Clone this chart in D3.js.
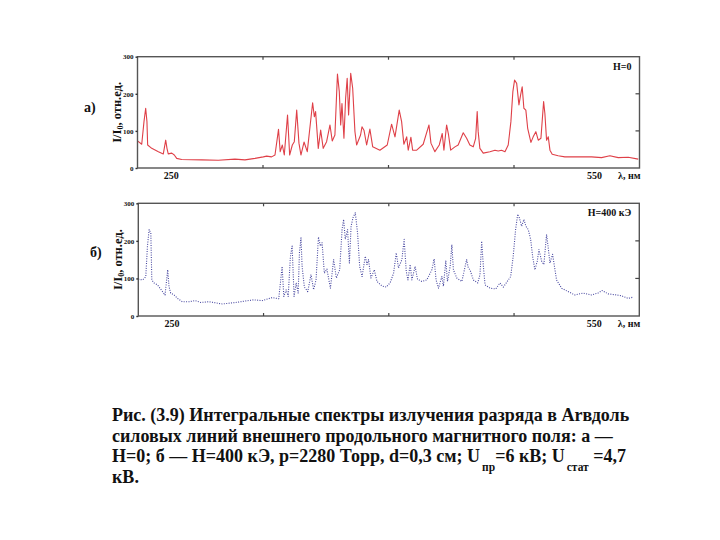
<!DOCTYPE html>
<html><head><meta charset="utf-8">
<script src="https://cdn.jsdelivr.net/npm/d3@7"></script>
<style>
html,body{margin:0;padding:0;background:#fff;}
svg{display:block;}
text{font-family:"Liberation Serif","Times New Roman",serif;font-weight:bold;fill:#111;}
</style></head>
<body>
<svg id="chart" width="720" height="540"></svg>
<script>
// ---- data ----
const lambdaA = [226.0,229.0,230.6,231.8,232.7,233.2,236.1,240.8,244.3,246.0,246.9,247.8,250.3,252.1,253.8,257.3,271.5,283.3,295.1,302.2,309.3,315.2,317.6,321.1,323.5,326.0,327.2,328.7,330.1,332.4,333.9,335.8,337.2,338.9,340.5,341.9,344.1,346.4,350.2,351.4,352.3,354.2,355.9,357.7,360.1,362.5,364.1,366.0,367.8,369.1,370.1,371.0,372.4,373.6,374.7,375.7,377.2,378.6,380.2,381.4,384.2,385.2,386.6,388.5,390.8,392.8,397.9,403.1,406.2,408.6,411.6,413.3,414.9,416.9,418.0,419.9,421.1,424.0,428.6,432.7,434.1,436.9,440.0,442.1,443.3,445.2,446.6,448.1,451.1,453.4,457.0,459.4,461.7,464.1,465.8,466.9,467.6,468.8,471.2,475.9,479.5,481.8,484.2,486.6,488.9,490.8,492.2,493.4,494.9,496.5,497.7,498.8,500.0,501.4,502.7,505.0,506.6,508.5,510.2,512.1,514.0,514.9,516.1,517.3,518.5,520.1,524.3,529.1,538.5,548.0,555.1,561.0,566.9,574.0,581.1];
const intensityA = [73,64,125,161,125,62,53,44,38,75,53,38,40,35,26,23,22,21,24,22,26,30,32,30,35,104,44,62,35,143,35,62,71,156,67,35,70,44,176,138,152,53,102,53,71,116,73,89,253,206,116,174,80,188,242,143,255,215,98,62,89,111,102,62,105,57,48,62,118,84,156,125,64,84,48,83,48,48,64,116,67,44,62,93,48,116,89,48,57,62,95,80,62,57,80,152,98,53,40,44,48,46,48,44,62,125,206,237,228,170,197,219,161,156,107,69,84,98,75,80,179,147,75,84,48,37,33,30,30,30,28,33,28,29,24];

const lambdaB = [226.0,229.0,231.3,232.5,233.7,234.9,235.6,237.2,239.6,243.2,245.0,246.9,247.8,249.0,251.4,253.8,257.3,262.0,266.3,270.3,276.2,285.7,295.1,302.2,308.1,314.1,321.1,325.8,328.2,329.4,331.1,332.5,334.1,335.3,336.7,338.2,339.6,340.5,341.6,342.4,344.0,346.4,348.7,350.6,352.3,354.0,355.4,356.6,358.2,360.0,362.5,364.8,366.7,369.1,370.8,371.9,373.1,374.7,376.0,377.2,378.6,380.2,381.8,383.3,385.0,387.3,388.5,389.6,391.3,393.7,395.6,399.1,402.2,405.0,407.4,409.3,410.9,413.3,414.9,416.4,417.6,419.2,420.4,422.7,424.4,427.5,431.0,434.6,436.2,437.6,439.3,441.7,442.8,444.5,445.7,447.6,448.8,449.9,452.3,455.9,459.3,460.5,461.7,464.1,467.2,468.8,470.0,471.2,472.4,475.9,480.0,483.0,485.4,488.2,490.6,492.4,494.1,495.6,496.7,498.4,500.0,501.4,503.1,504.8,506.2,507.8,509.5,510.7,512.6,514.2,516.1,517.3,518.5,520.4,521.5,523.2,526.8,531.4,536.2,542.1,548.0,552.7,555.5,559.8,565.8,569.3,574.0,577.5];
const intensityB = [98,96,104,186,230,221,96,88,83,65,56,123,79,61,56,47,38,38,41,36,38,32,36,40,43,41,49,46,132,52,70,52,159,186,52,88,61,168,208,132,77,65,110,70,96,210,186,195,114,125,74,150,101,123,230,257,204,230,141,239,262,275,221,132,105,159,137,150,101,123,92,80,77,89,114,168,128,150,204,119,96,137,96,132,98,92,96,123,152,96,74,105,79,146,92,132,190,123,101,92,150,128,123,96,88,110,199,132,83,74,72,88,77,92,105,159,230,271,262,239,257,239,230,204,159,123,146,177,146,137,217,181,141,164,137,96,74,65,56,61,56,61,68,59,56,54,47,50];

const yTicks = [0,100,200,300];
const innerTicksX = [315,404,493];
const innerTicksY = [100,200];
const xLabels = [250,550];
const xDomain = [226,582];
const yDomain = [0,300];
const panelLetters = ["а)","б)"];
const fieldLabels = ["H=0","H=400 кЭ"];
const xUnit = "λ, нм";

const svg = d3.select("#chart");

function panel(cfg){
  const x = d3.scaleLinear().domain(xDomain).range([cfg.left,cfg.right]);
  const y = d3.scaleLinear().domain(yDomain).range([cfg.bottom,cfg.top]);
  const g = svg.append("g");
  const line = d3.line().x((d,i)=>x(cfg.lx[i])).y((d,i)=>y(cfg.iy[i]));
  g.append("path").datum(cfg.iy).attr("d",line)
    .attr("fill","none").attr("stroke",cfg.color).attr("stroke-width",cfg.sw)
    .attr("stroke-dasharray",cfg.dash||null).attr("stroke-linejoin","round");
  g.append("rect").attr("x",cfg.left).attr("y",cfg.top)
    .attr("width",cfg.right-cfg.left).attr("height",cfg.bottom-cfg.top)
    .attr("fill","none").attr("stroke","#555").attr("stroke-width",1.4);
  const ax = g.append("g").attr("transform",`translate(${cfg.left},0)`)
    .call(d3.axisLeft(y).tickValues(yTicks).tickSize(2).tickPadding(2).tickFormat(d3.format("d")));
  ax.select(".domain").remove();
  ax.selectAll("line").attr("stroke","#333").attr("stroke-width",1.4);
  ax.selectAll("text").style("font-size","7px").style("font-weight","bold")
    .style("font-family","Liberation Serif, serif").attr("fill","#111");
  innerTicksX.forEach(v=>{
    g.append("line").attr("x1",x(v)).attr("x2",x(v)).attr("y1",cfg.top).attr("y2",cfg.top+3).attr("stroke","#444").attr("stroke-width",1.2);
    g.append("line").attr("x1",x(v)).attr("x2",x(v)).attr("y1",cfg.bottom).attr("y2",cfg.bottom-3).attr("stroke","#444").attr("stroke-width",1.2);
  });
  innerTicksY.forEach(v=>{
    g.append("line").attr("x1",cfg.right).attr("x2",cfg.right-4).attr("y1",y(v)).attr("y2",y(v)).attr("stroke","#444").attr("stroke-width",1.2);
  });
  xLabels.forEach(v=>{
    g.append("text").attr("x",x(v)).attr("y",cfg.bottom+11).attr("text-anchor","middle")
      .style("font-size","10px").text(v);
  });
  g.append("text").attr("x",cfg.right+1).attr("y",cfg.bottom+11).attr("text-anchor","end")
    .style("font-size","10px").text(xUnit);
  const yl = g.append("text").attr("transform",`translate(${cfg.ylx},${(cfg.top+cfg.bottom)/2}) rotate(-90)`)
    .attr("text-anchor","middle").style("font-size","12.5px");
  yl.append("tspan").text("I/I");
  yl.append("tspan").attr("dy",2).style("font-size","8px").text("0");
  yl.append("tspan").attr("dy",-2).text(", отн.ед.");
  g.append("text").attr("x",cfg.px).attr("y",cfg.py).style("font-size","14px").text(cfg.letter);
  g.append("text").attr("x",cfg.right-8).attr("y",cfg.top+13).attr("text-anchor","end")
    .style("font-size","10px").text(cfg.field);
}

panel({left:137.5,right:639.5,top:56.7,bottom:168,lx:lambdaA,iy:intensityA,color:"#df4048",sw:1.1,
  ylx:121,px:84,py:112,letter:panelLetters[0],field:fieldLabels[0]});
panel({left:138.3,right:639.3,top:203.3,bottom:316,lx:lambdaB,iy:intensityB,color:"#4848a0",sw:1.1,dash:"1,1.4",
  ylx:122,px:90,py:257,letter:panelLetters[1],field:fieldLabels[1]});

// caption
const fs = "18px", sub = "11.5px";
svg.append("text").attr("x",112).attr("y",421).style("font-size",fs)
  .text("Рис. (3.9) Интегральные спектры излучения разряда в Arвдоль");
svg.append("text").attr("x",112).attr("y",441.7).style("font-size",fs)
  .text("силовых линий внешнего продольного магнитного поля: а —");
const l3 = svg.append("text").attr("x",112).attr("y",462).style("font-size",fs);
l3.append("tspan").text("Н=0; б — Н=400 кЭ, р=2280 Торр, d=0,3 см; U");
l3.append("tspan").attr("dy",9).attr("dx",2).style("font-size",sub).text("пр");
l3.append("tspan").attr("dy",-9).text("=6 кВ; U");
l3.append("tspan").attr("dy",9).attr("dx",2).style("font-size",sub).text("стат");
l3.append("tspan").attr("dy",-9).text(" =4,7");
svg.append("text").attr("x",112).attr("y",482.5).style("font-size",fs).text("кВ.");
</script>
</body></html>
